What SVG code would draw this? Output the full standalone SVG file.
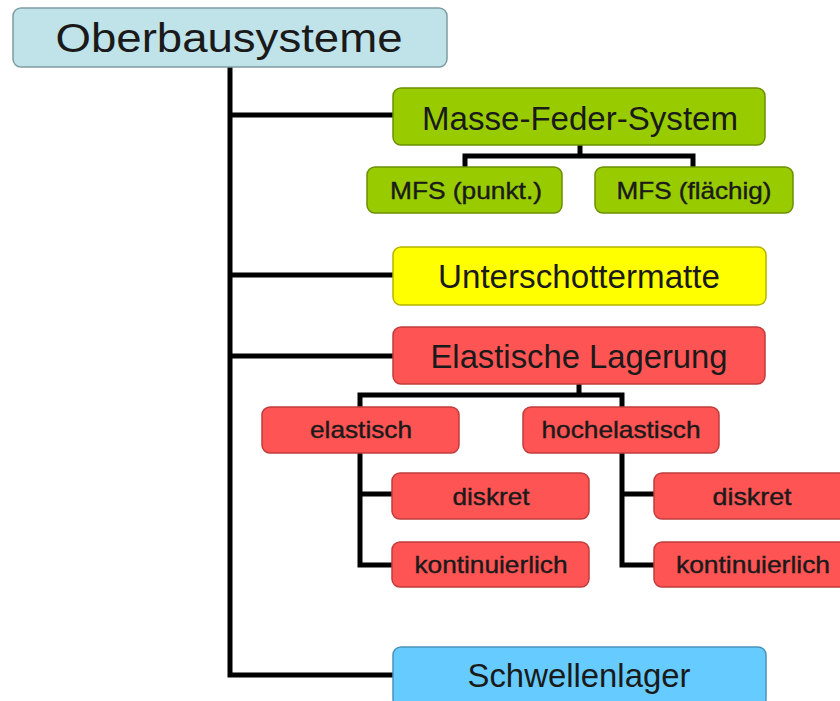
<svg xmlns="http://www.w3.org/2000/svg" width="840" height="701" viewBox="0 0 840 701">
<style>
.box{stroke-width:1.5}
.root{fill:#bfe3e9;stroke:#7f9ca2}
.green{fill:#99cc00;stroke:#6b8f00}
.yellow{fill:#ffff00;stroke:#b5b500}
.red{fill:#ff5454;stroke:#c03c3c}
.blue{fill:#66ccff;stroke:#4a93bd}
text{font-family:"Liberation Sans",Arial,sans-serif;text-anchor:middle;fill:#1a1a1a}
.big{font-size:33px}
.small{font-size:24px;stroke:#1a1a1a;stroke-width:0.4}
.con path{fill:none;stroke:#000;stroke-width:5;stroke-linejoin:miter}
</style>
<rect width="840" height="701" fill="#ffffff"/>
<g class="con" id="connectors">
<path d="M230 67 V675 H393"/>
<path d="M230 115 H393"/>
<path d="M230 275 H393"/>
<path d="M230 356 H393"/>
<path d="M580 145 V156"/>
<path d="M465 167 V156 H693 V167"/>
<path d="M579 384 V395"/>
<path d="M360 407 V395 H622 V407"/>
<path d="M360 453 V565 H392"/>
<path d="M360 494 H392"/>
<path d="M622 453 V565 H654"/>
<path d="M622 494 H654"/>
</g>
<g id="n-root"><rect class="box root" x="13" y="8" width="434" height="59" rx="8"/><text x="229" y="52" font-size="40" textLength="347" lengthAdjust="spacingAndGlyphs">Oberbausysteme</text></g>
<g id="n-mfs"><rect class="box green" x="393" y="88" width="372" height="57" rx="8"/><text class="big" x="580" y="130" textLength="316" lengthAdjust="spacingAndGlyphs">Masse-Feder-System</text></g>
<g id="n-mfs-punkt"><rect class="box green" x="367" y="167" width="195" height="46" rx="8"/><text class="small" x="466" y="199" textLength="152" lengthAdjust="spacingAndGlyphs">MFS (punkt.)</text></g>
<g id="n-mfs-flaechig"><rect class="box green" x="595" y="167" width="198" height="46" rx="8"/><text class="small" x="694" y="199" textLength="155" lengthAdjust="spacingAndGlyphs">MFS (flächig)</text></g>
<g id="n-usm"><rect class="box yellow" x="393" y="247" width="373" height="58" rx="8"/><text class="big" x="579" y="288" textLength="282" lengthAdjust="spacingAndGlyphs">Unterschottermatte</text></g>
<g id="n-el"><rect class="box red" x="393" y="327" width="372" height="57" rx="8"/><text class="big" x="579" y="368" textLength="297" lengthAdjust="spacingAndGlyphs">Elastische Lagerung</text></g>
<g id="n-elastisch"><rect class="box red" x="262" y="407" width="197" height="46" rx="8"/><text class="small" x="361" y="438" textLength="102" lengthAdjust="spacingAndGlyphs">elastisch</text></g>
<g id="n-hochelastisch"><rect class="box red" x="523" y="407" width="196" height="46" rx="8"/><text class="small" x="621" y="438" textLength="159" lengthAdjust="spacingAndGlyphs">hochelastisch</text></g>
<g id="n-el-diskret"><rect class="box red" x="392" y="473" width="197" height="46" rx="8"/><text class="small" x="491" y="505" textLength="77" lengthAdjust="spacingAndGlyphs">diskret</text></g>
<g id="n-el-kont"><rect class="box red" x="392" y="542" width="197" height="45" rx="8"/><text class="small" x="491" y="573" textLength="153" lengthAdjust="spacingAndGlyphs">kontinuierlich</text></g>
<g id="n-hel-diskret"><rect class="box red" x="654" y="473" width="197" height="46" rx="8"/><text class="small" x="752" y="505" textLength="79" lengthAdjust="spacingAndGlyphs">diskret</text></g>
<g id="n-hel-kont"><rect class="box red" x="654" y="542" width="197" height="45" rx="8"/><text class="small" x="753" y="573" textLength="154" lengthAdjust="spacingAndGlyphs">kontinuierlich</text></g>
<g id="n-schwellenlager"><rect class="box blue" x="393" y="647" width="373" height="60" rx="8"/><text class="big" x="579" y="687" textLength="223" lengthAdjust="spacingAndGlyphs">Schwellenlager</text></g>
</svg>
